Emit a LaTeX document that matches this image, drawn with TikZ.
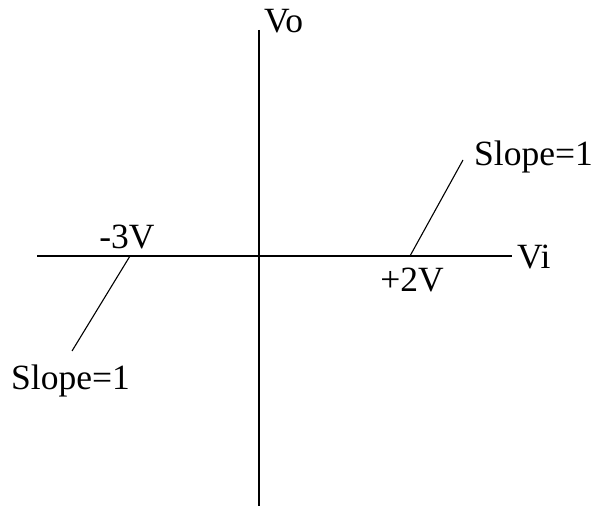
\documentclass[tikz,border=0pt]{standalone}
\usepackage{fontspec}
\setmainfont{Liberation Serif}
\begin{document}
\begin{tikzpicture}[x=1pt,y=-1pt,
  axis/.style={line width=1.8pt,black},
  slopeline/.style={line width=1.1pt,black},
  lbl/.style={inner sep=0pt,font=\fontsize{35.5}{40}\selectfont}]
\useasboundingbox (0,0) rectangle (598,508);
% axes
\coordinate (vtop) at (259,30);
\coordinate (vbot) at (259,506);
\coordinate (hl) at (37,256);
\coordinate (hr) at (512,256);
\draw[axis] (vtop) -- (vbot);
\draw[axis] (hl) -- (hr);
% labels
\node[lbl,anchor=west] (vo) at (264,21) {Vo};
\node[lbl,anchor=west] (vi) at (517,257) {Vi};
\node[lbl] (m3) at (127,237) {-3V};
\node[lbl] (p2) at (412,280) {+2V};
\node[lbl,anchor=west] (sr) at (474,157) {Slope=1};
\node[lbl,anchor=west] (sl) at (11,381) {Slope=1};
% slope lines
\coordinate (r0) at (410,256);
\coordinate (r1) at (463,160);
\coordinate (l0) at (130,256);
\coordinate (l1) at (72,351);
\draw[slopeline] (r0) -- (r1);
\draw[slopeline] (l0) -- (l1);
\end{tikzpicture}
\end{document}
